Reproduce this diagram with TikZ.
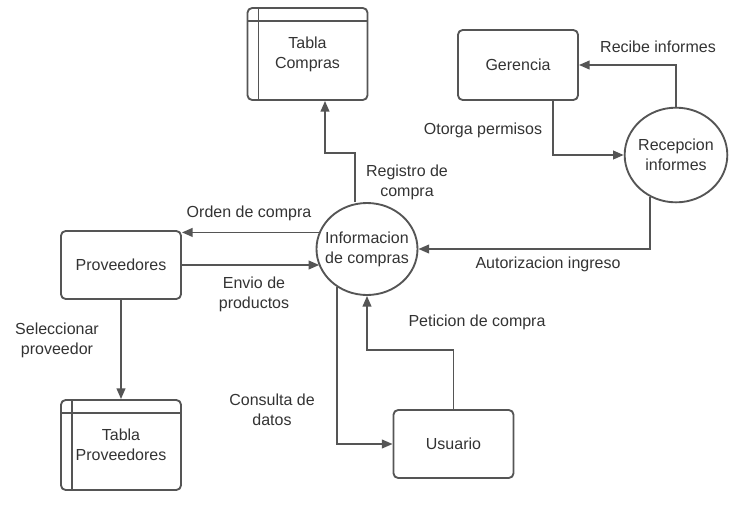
\documentclass[tikz,border=0pt]{standalone}
\usepackage{fontspec}
\setmainfont{Liberation Sans}
\usetikzlibrary{arrows.meta,positioning,shapes.geometric,calc}
\definecolor{lnclr}{RGB}{85,85,85}
\definecolor{txclr}{RGB}{51,51,51}

\begin{document}
\begin{tikzpicture}[
  x=0.75pt, y=-0.75pt,
  font=\fontsize{12}{15}\selectfont, text=txclr,
  % entity box
  box/.style = {draw=lnclr, line width=1.4pt, rounded corners=3.5pt,
                minimum width=90pt, align=center},
  % data store with inner lines
  tbl/.style = {box, path picture={
                \draw[lnclr, line width=1.4pt]
                  ([xshift=8.25pt]path picture bounding box.north west) --
                  ([xshift=8.25pt]path picture bounding box.south west);
                \draw[lnclr, line width=1.4pt]
                  ([yshift=-9.5pt]path picture bounding box.north west) --
                  ([yshift=-9.5pt]path picture bounding box.north east);}},
  % process
  proc/.style = {draw=lnclr, line width=1.4pt, ellipse, align=center,
                 inner xsep=-8pt, inner ysep=0pt},
  % label
  lbl/.style = {align=center, inner sep=0pt},
  arr/.style = {-{Triangle[length=8pt,width=6.5pt]}, line width=1.4pt,
                color=lnclr}
]
\useasboundingbox (0,0) rectangle (736,507);

% Entities and stores
\node[tbl, minimum height=69pt]   (tc)   at (307.5, 54) {Tabla\\Compras};
\node[box, minimum height=52.5pt] (ger)  at (518, 65)   {Gerencia};
\node[box, minimum height=51pt]   (prov) at (121, 265)  {Proveedores};
\node[tbl, minimum height=67.5pt] (tp)   at (121, 445)  {Tabla\\Proveedores};
\node[box, minimum height=51pt]   (usr)  at (453.5, 444){Usuario};

% Processes
\node[proc, minimum width=75.75pt, minimum height=69pt] (info) at (367, 249)
  {Informacion\\de compras};
\node[proc, minimum width=77pt, minimum height=71pt] (rec) at (676, 155)
  {Recepcion\\informes};

% Bend points
\coordinate (rg1) at (355, 153);
\coordinate (rg2) at (325, 153);
\coordinate (pc)  at (367, 350);

% Flows
\draw[arr] (rec.north) |- (ger.east);
\draw[arr] ([xshift=26pt]ger.south) |- (rec.west);
\draw[arr] (info.north -| rg1) -- (rg1) -- (rg2) -- (tc.south -| rg2);
\draw[arr] (rec.238) |- (info.east);
\draw[arr] (info.161) -- (info.161 -| prov.east);
\draw[arr] (prov.east) -- (prov.east -| info.200);
\draw[arr] (prov.south) -- (tp.north);
\draw[arr] (info.232) |- (usr.west);
\draw[arr] (usr.north) |- (pc) -- (info.south);

% Flow labels
\node[lbl] (l1) at (658, 47)  {Recibe informes};
\node[lbl] (l2) at (483, 130) {Otorga permisos};
\node[lbl] (l3) at (407, 182) {Registro de\\compra};
\node[lbl] (l4) at (249, 213) {Orden de compra};
\node[lbl] (l5) at (254, 294) {Envio de\\productos};
\node[lbl] (l6) at (548, 264) {Autorizacion ingreso};
\node[lbl] (l7) at (477, 322) {Peticion de compra};
\node[lbl] (l8) at (57, 340)  {Seleccionar\\proveedor};
\node[lbl] (l9) at (272, 410) {Consulta de\\datos};

\end{tikzpicture}
\end{document}
